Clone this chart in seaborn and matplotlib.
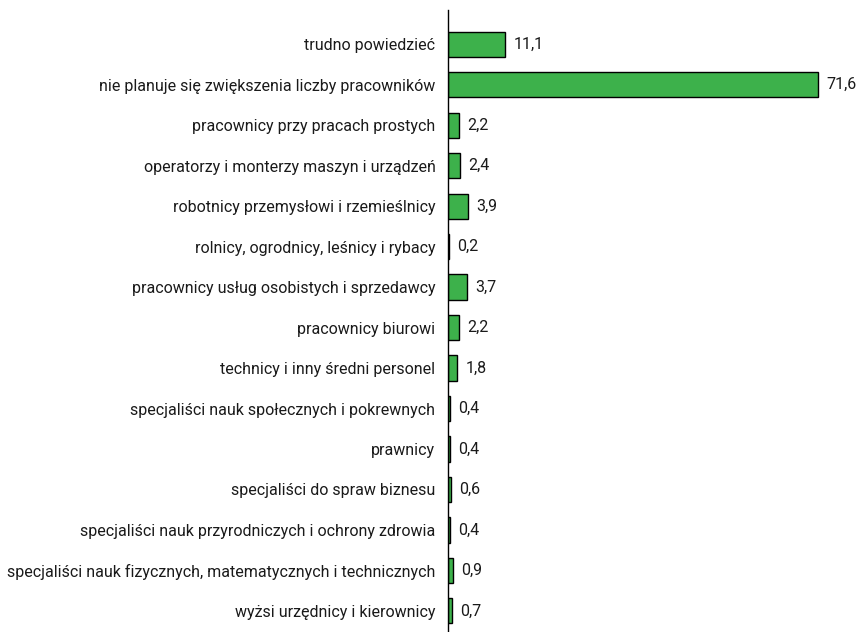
import pandas as pd
import seaborn as sns
from matplotlib import pyplot as plt

categories = [
    "trudno powiedzieć",
    "nie planuje się zwiększenia liczby pracowników",
    "pracownicy przy pracach prostych",
    "operatorzy i monterzy maszyn i urządzeń",
    "robotnicy przemysłowi i rzemieślnicy",
    "rolnicy, ogrodnicy, leśnicy i rybacy",
    "pracownicy usług osobistych i sprzedawcy",
    "pracownicy biurowi",
    "technicy i inny średni personel",
    "specjaliści nauk społecznych i pokrewnych",
    "prawnicy",
    "specjaliści do spraw biznesu",
    "specjaliści nauk przyrodniczych i ochrony zdrowia",
    "specjaliści nauk fizycznych, matematycznych i technicznych",
    "wyżsi urzędnicy i kierownicy",
]
values = [11.1, 71.6, 2.2, 2.4, 3.9, 0.2, 3.7, 2.2, 1.8, 0.4, 0.4, 0.6, 0.4, 0.9, 0.7]

df = pd.DataFrame({"kategoria": categories, "procent": values})

sns.set_style("white")
plt.rcParams['font.family'] = ['Roboto', 'DejaVu Sans']

fig = plt.figure(figsize=(8.59, 6.32), dpi=100)
ax = fig.add_axes([0.5215, 0.0, 0.468, 0.984])

sns.barplot(x="procent", y="kategoria", data=df, color="#3db14b",
            saturation=1, edgecolor="black", linewidth=1, width=0.62, ax=ax)

# etykiety wartosci z przecinkiem dziesietnym
labels = [f"{v:.1f}".replace(".", ",") for v in values]
ax.bar_label(ax.containers[0], labels=labels, padding=6, fontsize=11.5, color="#1a1a1a")

ax.set_xlim(0, 77.8)
ax.set_ylim(14.52, -0.84)
ax.set_xlabel("")
ax.set_ylabel("")
ax.set_xticks([])
ax.tick_params(axis="y", length=0, pad=9, labelsize=11.5, labelcolor="#1a1a1a")
for side in ["top", "right", "bottom"]:
    ax.spines[side].set_visible(False)
ax.spines["left"].set_color("black")
ax.spines["left"].set_linewidth(1)

plt.savefig("out.png", dpi=100)
